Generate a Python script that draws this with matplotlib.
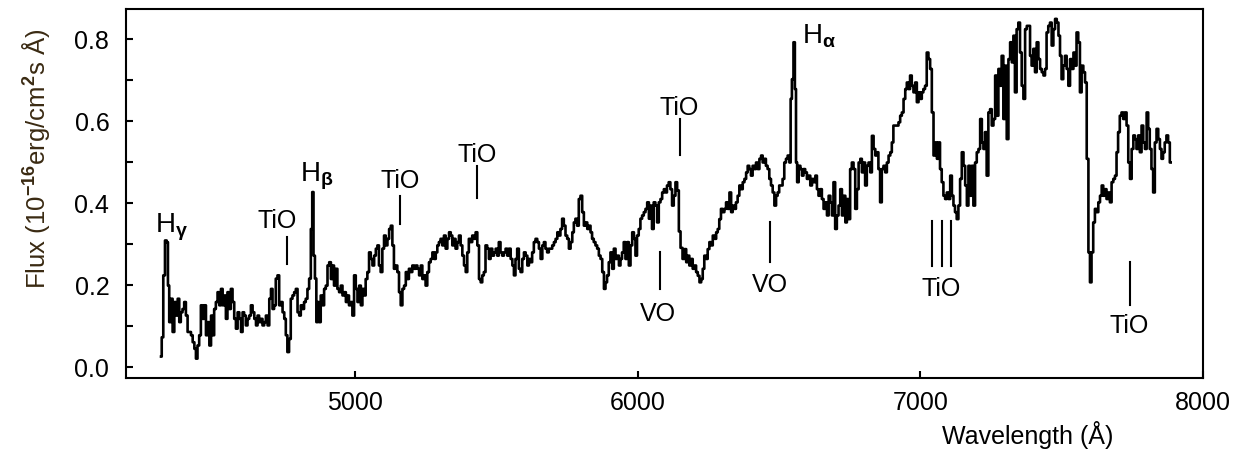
import numpy as np
import matplotlib.pyplot as plt

plt.rcParams['font.family'] = ['Liberation Sans', 'DejaVu Sans']
plt.rcParams['mathtext.fontset'] = 'custom'
plt.rcParams['mathtext.rm'] = 'Liberation Sans'
plt.rcParams['mathtext.it'] = 'Liberation Sans:italic'
plt.rcParams['mathtext.bf'] = 'Liberation Sans:bold'

# Spectrum, wavelength in Angstrom, flux in 1e-16 erg/cm2/s/A
wavelength = [
    4314, 4319, 4325, 4331, 4337, 4340, 4346, 4352, 4358, 4364, 4370, 4376, 4381, 4387, 4393, 4399,
    4405, 4411, 4417, 4423, 4429, 4435, 4440, 4446, 4452, 4458, 4464, 4470, 4476, 4482, 4488, 4494,
    4499, 4505, 4511, 4517, 4523, 4529, 4535, 4541, 4546, 4552, 4558, 4564, 4570, 4576, 4582, 4588,
    4594, 4600, 4605, 4611, 4617, 4623, 4629, 4635, 4641, 4647, 4653, 4658, 4664, 4670, 4676, 4682,
    4688, 4694, 4700, 4706, 4711, 4717, 4723, 4729, 4735, 4741, 4747, 4753, 4758, 4764, 4770, 4776,
    4782, 4788, 4794, 4800, 4806, 4811, 4817, 4823, 4829, 4835, 4841, 4847, 4851, 4856, 4861, 4866,
    4870, 4876, 4882, 4888, 4894, 4900, 4906, 4912, 4918, 4923,
    4929, 4935, 4941, 4947, 4953, 4959, 4965, 4971, 4976, 4982, 4988, 4994, 5000, 5006, 5012, 5018,
    5024, 5029, 5035, 5041, 5047, 5053, 5059, 5065, 5071, 5077, 5082, 5088, 5094, 5100, 5106, 5112,
    5118, 5124, 5130, 5135, 5141, 5147, 5153, 5159, 5165, 5171, 5177, 5183, 5188, 5194, 5200, 5206,
    5212, 5218, 5224, 5230, 5236, 5241, 5247, 5253, 5259, 5265, 5271, 5277, 5283, 5289, 5294, 5300,
    5306, 5312, 5318, 5324, 5330, 5336, 5342, 5347, 5353, 5359, 5365, 5371, 5377, 5383, 5389, 5395,
    5400, 5406, 5412, 5418, 5424, 5430, 5436, 5442, 5448, 5453, 5459, 5465, 5471, 5477, 5483, 5489,
    5495, 5501, 5506, 5512, 5518, 5524,
    5530, 5536, 5542, 5548, 5554, 5560, 5565, 5571, 5577, 5583, 5589, 5595, 5601, 5607, 5613, 5618,
    5624, 5630, 5636, 5642, 5648, 5654, 5660, 5666, 5671, 5677, 5683, 5689, 5695, 5701, 5707, 5713,
    5719, 5724, 5730, 5736, 5742, 5748, 5754, 5760, 5766, 5772, 5777, 5783, 5789, 5795, 5801, 5807,
    5813, 5819, 5825, 5831, 5836, 5842, 5848, 5854, 5860, 5866, 5872, 5878, 5884, 5889, 5895, 5901,
    5907, 5913, 5919, 5925, 5931, 5937, 5942, 5948, 5954, 5960, 5966, 5972, 5978, 5984, 5990, 5995,
    6001, 6007, 6013, 6019, 6025, 6031, 6037, 6043, 6048, 6054, 6060, 6066, 6072, 6078, 6084, 6090,
    6096, 6101, 6107, 6113, 6119, 6125, 6131, 6137, 6143, 6149, 6155,
    6163, 6169, 6175, 6180, 6186, 6192, 6198, 6204, 6210, 6216, 6222, 6228, 6233, 6239, 6245, 6251,
    6257, 6263, 6269, 6275, 6281, 6286, 6292, 6298, 6304, 6310, 6316, 6322, 6328, 6334, 6339, 6345,
    6351, 6357, 6363, 6369, 6375, 6381, 6387, 6392, 6398, 6404, 6410, 6416, 6422, 6428, 6434, 6440,
    6445, 6451, 6457, 6463, 6469, 6475, 6481, 6487, 6493, 6498, 6504, 6510, 6516, 6522, 6528, 6534,
    6540, 6543, 6549, 6554, 6559, 6562, 6567, 6573, 6579, 6584, 6590, 6596, 6602, 6608, 6614, 6620,
    6626, 6632, 6637, 6643, 6649, 6655, 6661, 6667, 6673, 6679, 6685, 6690, 6696, 6702, 6708, 6714,
    6720, 6726, 6732, 6738, 6743, 6749, 6755, 6761,
    6767, 6773, 6779, 6785, 6791, 6796, 6802, 6808, 6814, 6820, 6826, 6832, 6838, 6844, 6849, 6855,
    6861, 6867, 6873, 6879, 6885, 6891, 6897, 6902, 6908, 6914, 6920, 6926, 6932, 6938, 6944, 6950,
    6955, 6961, 6967, 6973, 6979, 6985, 6991, 6997, 7003, 7008, 7014, 7020, 7026, 7032, 7038, 7044,
    7050, 7056, 7062, 7067, 7073, 7079, 7085, 7091, 7097, 7103, 7109, 7115, 7120, 7126, 7132, 7138,
    7144, 7150, 7156, 7162, 7168, 7173, 7179, 7185, 7191, 7197, 7203, 7209, 7215, 7221, 7226, 7232,
    7238, 7244, 7250, 7256, 7262, 7268, 7274, 7279, 7285, 7291, 7297, 7303, 7309, 7315, 7321, 7327,
    7332, 7338, 7344, 7350, 7356, 7362, 7368, 7374, 7380,
    7386, 7391, 7397, 7403, 7409, 7415, 7421, 7427, 7433, 7439, 7444, 7450, 7456, 7462, 7468, 7474,
    7480, 7486, 7492, 7497, 7503, 7509, 7515, 7521, 7527, 7533, 7539, 7545, 7550, 7556, 7562, 7568,
    7574, 7580, 7586, 7592, 7598, 7603, 7609, 7615, 7621, 7627, 7633, 7639, 7645, 7650, 7656, 7662,
    7668, 7674, 7680, 7686, 7692, 7697, 7703, 7709, 7715, 7721, 7727, 7733, 7739, 7745, 7751, 7757,
    7762, 7768, 7774, 7780, 7786, 7792, 7798, 7804, 7809, 7815, 7821, 7827, 7833, 7839, 7845, 7851,
    7856, 7862, 7868, 7874, 7880, 7886,
]
flux = [
    0.025, 0.072, 0.223, 0.308, 0.304, 0.198, 0.109, 0.166, 0.085, 0.158, 0.125, 0.166, 0.109, 0.133, 0.141, 0.158,
    0.125, 0.085, 0.085, 0.077, 0.060, 0.044, 0.020, 0.052, 0.077, 0.150, 0.117, 0.150, 0.077, 0.109, 0.052, 0.125,
    0.077, 0.141, 0.158, 0.182, 0.150, 0.190, 0.150, 0.174, 0.117, 0.182, 0.141, 0.190, 0.158, 0.117, 0.093, 0.133,
    0.117, 0.085, 0.133, 0.125, 0.101, 0.117, 0.125, 0.150, 0.133, 0.117, 0.101, 0.125, 0.109, 0.117, 0.101, 0.109,
    0.125, 0.101, 0.166, 0.190, 0.141, 0.150, 0.215, 0.223, 0.150, 0.158, 0.133, 0.117, 0.077, 0.036, 0.068, 0.166,
    0.174, 0.182, 0.190, 0.133, 0.125, 0.150, 0.141, 0.158, 0.166, 0.190, 0.215, 0.336, 0.426, 0.271, 0.215, 0.109,
    0.158, 0.109, 0.174, 0.150, 0.190, 0.198, 0.247, 0.255, 0.214, 0.247,
    0.198, 0.239, 0.190, 0.182, 0.198, 0.174, 0.182, 0.158, 0.174, 0.150, 0.158, 0.125, 0.223, 0.190, 0.158, 0.198,
    0.150, 0.190, 0.174, 0.214, 0.231, 0.279, 0.263, 0.247, 0.271, 0.288, 0.296, 0.247, 0.231, 0.288, 0.320, 0.296,
    0.312, 0.336, 0.344, 0.296, 0.239, 0.247, 0.231, 0.182, 0.150, 0.190, 0.198, 0.231, 0.214, 0.239, 0.231, 0.247,
    0.239, 0.247, 0.239, 0.223, 0.247, 0.214, 0.223, 0.198, 0.231, 0.255, 0.263, 0.279, 0.263, 0.279, 0.296, 0.304,
    0.312, 0.296, 0.320, 0.288, 0.312, 0.328, 0.320, 0.296, 0.312, 0.288, 0.304, 0.320, 0.296, 0.271, 0.247, 0.231,
    0.279, 0.312, 0.304, 0.320, 0.312, 0.328, 0.296, 0.214, 0.206, 0.223, 0.231, 0.296, 0.288, 0.263, 0.288, 0.271,
    0.279, 0.288, 0.271, 0.304, 0.279, 0.271,
    0.279, 0.288, 0.271, 0.288, 0.263, 0.247, 0.223, 0.263, 0.288, 0.239, 0.231, 0.263, 0.279, 0.271, 0.247, 0.263,
    0.255, 0.279, 0.304, 0.312, 0.304, 0.288, 0.263, 0.296, 0.304, 0.288, 0.279, 0.288, 0.288, 0.296, 0.304, 0.312,
    0.328, 0.320, 0.336, 0.361, 0.344, 0.320, 0.312, 0.288, 0.304, 0.328, 0.352, 0.361, 0.344, 0.409, 0.417, 0.377,
    0.344, 0.352, 0.336, 0.344, 0.328, 0.312, 0.304, 0.296, 0.288, 0.271, 0.263, 0.231, 0.190, 0.206, 0.223, 0.255,
    0.279, 0.239, 0.288, 0.263, 0.271, 0.247, 0.263, 0.279, 0.304, 0.263, 0.304, 0.247, 0.296, 0.328, 0.312, 0.271,
    0.320, 0.336, 0.361, 0.369, 0.377, 0.385, 0.401, 0.361, 0.393, 0.336, 0.401, 0.393, 0.352, 0.401, 0.409, 0.425,
    0.433, 0.425, 0.442, 0.450, 0.433, 0.393, 0.417, 0.450, 0.430, 0.330, 0.290,
    0.263, 0.287, 0.255, 0.271, 0.247, 0.263, 0.239, 0.247, 0.231, 0.222, 0.206, 0.214, 0.239, 0.271, 0.263, 0.287,
    0.304, 0.296, 0.320, 0.312, 0.328, 0.336, 0.360, 0.385, 0.377, 0.385, 0.401, 0.385, 0.425, 0.377, 0.393, 0.385,
    0.401, 0.417, 0.442, 0.433, 0.450, 0.458, 0.474, 0.490, 0.482, 0.466, 0.490, 0.482, 0.498, 0.482, 0.507, 0.515,
    0.498, 0.507, 0.490, 0.482, 0.458, 0.442, 0.425, 0.393, 0.417, 0.425, 0.442, 0.442, 0.458, 0.498, 0.507, 0.515,
    0.498, 0.653, 0.701, 0.791, 0.677, 0.498, 0.450, 0.490, 0.482, 0.466, 0.482, 0.474, 0.458, 0.466, 0.442, 0.458,
    0.450, 0.466, 0.433, 0.417, 0.433, 0.409, 0.385, 0.401, 0.369, 0.417, 0.401, 0.369, 0.450, 0.336, 0.369, 0.393,
    0.433, 0.369, 0.417, 0.352, 0.409, 0.360, 0.482, 0.498,
    0.482, 0.385, 0.433, 0.498, 0.507, 0.474, 0.498, 0.442, 0.490, 0.498, 0.474, 0.563, 0.531, 0.515, 0.523, 0.482,
    0.401, 0.482, 0.490, 0.474, 0.498, 0.515, 0.523, 0.547, 0.588, 0.588, 0.588, 0.596, 0.612, 0.620, 0.653, 0.677,
    0.693, 0.677, 0.710, 0.685, 0.669, 0.693, 0.645, 0.669, 0.653, 0.669, 0.677, 0.685, 0.766, 0.750, 0.726, 0.620,
    0.515, 0.547, 0.507, 0.547, 0.482, 0.450, 0.417, 0.409, 0.425, 0.409, 0.466, 0.417, 0.393, 0.377, 0.360, 0.393,
    0.458, 0.523, 0.490, 0.442, 0.393, 0.490, 0.417, 0.490, 0.393, 0.498, 0.523, 0.531, 0.604, 0.547, 0.531, 0.572,
    0.466, 0.620, 0.628, 0.588, 0.604, 0.710, 0.612, 0.726, 0.685, 0.758, 0.604, 0.734, 0.555, 0.750, 0.791, 0.742,
    0.807, 0.669, 0.823, 0.839, 0.766, 0.685, 0.653, 0.823, 0.831,
    0.831, 0.758, 0.734, 0.775, 0.718, 0.791, 0.750, 0.726, 0.718, 0.710, 0.726, 0.815, 0.831, 0.839, 0.783, 0.823,
    0.848, 0.839, 0.807, 0.758, 0.701, 0.734, 0.758, 0.726, 0.685, 0.750, 0.726, 0.766, 0.734, 0.815, 0.791, 0.669,
    0.734, 0.718, 0.693, 0.507, 0.279, 0.206, 0.279, 0.352, 0.385, 0.377, 0.401, 0.417, 0.442, 0.417, 0.433, 0.409,
    0.425, 0.401, 0.450, 0.458, 0.466, 0.523, 0.572, 0.612, 0.620, 0.604, 0.620, 0.588, 0.498, 0.458, 0.531, 0.564,
    0.555, 0.531, 0.564, 0.523, 0.588, 0.547, 0.531, 0.620, 0.580, 0.531, 0.482, 0.425, 0.547, 0.580, 0.555, 0.531,
    0.507, 0.523, 0.547, 0.564, 0.547, 0.498,
]

# Molecular band identifications: tick marks and labels
mark_wl = [4760, 5159, 5431, 6149, 6078, 6470, 7043, 7078, 7110, 7742]
mark_lo = [0.251, 0.348, 0.412, 0.516, 0.190, 0.256, 0.246, 0.246, 0.246, 0.151]
mark_hi = [0.317, 0.416, 0.490, 0.604, 0.280, 0.353, 0.356, 0.356, 0.356, 0.256]

band_text = ['TiO', 'TiO', 'TiO', 'TiO', 'VO', 'VO', 'TiO', 'TiO']
band_wl = [4724, 5159, 5431, 6146, 6071, 6467, 7074, 7739]
band_y = [0.340, 0.438, 0.502, 0.616, 0.115, 0.186, 0.174, 0.085]

# Balmer lines
balmer_text = [r'H$_{\mathbf{\gamma}}$', r'H$_{\mathbf{\beta}}$', r'H$_{\mathbf{\alpha}}$']
balmer_wl = [4294, 4806, 6583]
balmer_y = [0.329, 0.454, 0.791]

fig = plt.figure(figsize=(12.35, 4.56), dpi=100)
ax = fig.add_axes([0.102, 0.169, 0.872, 0.809])

ax.plot(wavelength, flux, color='black', linewidth=1.9, drawstyle='steps-mid')

for w, lo, hi in zip(mark_wl, mark_lo, mark_hi):
    ax.plot([w, w], [lo, hi], color='black', linewidth=1.5)
for t, w, y in zip(band_text, band_wl, band_y):
    ax.text(w, y, t, fontsize=18, ha='center', va='baseline')
for t, w, y in zip(balmer_text, balmer_wl, balmer_y):
    ax.text(w, y, t, fontsize=20, ha='left', va='baseline')

ax.set_xlim(4190, 8000)
ax.set_ylim(-0.027, 0.872)
ax.set_xticks([5000, 6000, 7000, 8000])
ax.set_yticks([0.0, 0.2, 0.4, 0.6, 0.8])
ax.set_yticklabels(['0.0', '0.2', '0.4', '0.6', '0.8'])
ax.set_yticks([0.1, 0.3, 0.5, 0.7], minor=True)
ax.tick_params(which='both', direction='in', length=5, width=1.5, labelsize=18)
ax.tick_params(axis='y', pad=12)
ax.tick_params(axis='x', pad=9)
for s in ax.spines.values():
    s.set_linewidth(1.5)

ax.set_xlabel('Wavelength (Å)', fontsize=18, va='top')
ax.xaxis.set_label_coords(0.8375, -0.115)
ax.set_ylabel(r'Flux (10$^{\mathbf{-16}}$erg/cm$^{\mathbf{2}}$s Å)', fontsize=18.5, color='#3a2a12')
ax.yaxis.set_label_coords(-0.069, 0.596)

plt.savefig('out.png', dpi=100)
